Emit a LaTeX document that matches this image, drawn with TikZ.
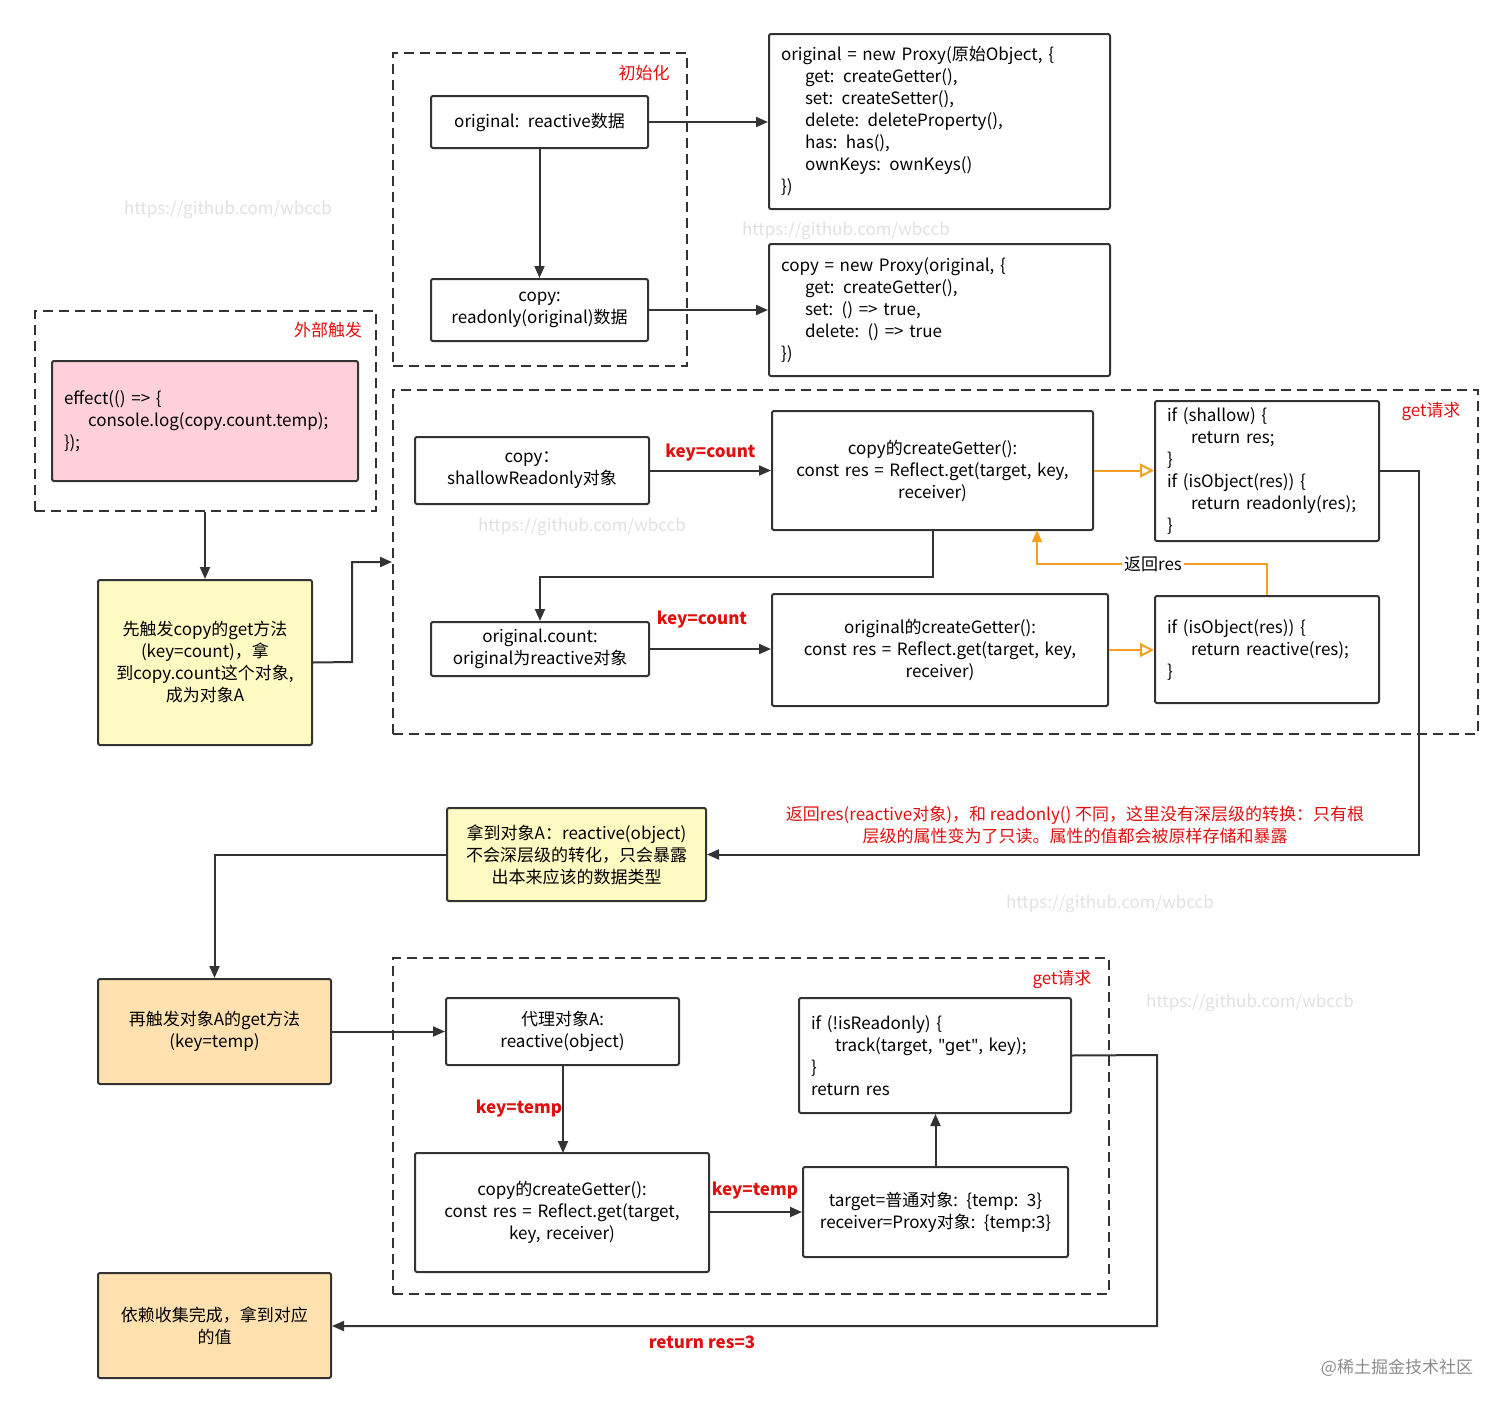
\documentclass[tikz,border=0pt]{standalone}
\usepackage{fontspec}
\setmainfont{Noto Sans CJK SC}
\newfontfamily\latin{Noto Sans}
\usetikzlibrary{arrows.meta}
\definecolor{lc}{HTML}{333333}
\definecolor{rd}{HTML}{E01010}
\definecolor{og}{HTML}{F5A020}
\definecolor{pk}{HTML}{FFD0DA}
\definecolor{yl}{HTML}{FFF9C2}
\definecolor{or}{HTML}{FFE1B0}
\newcommand\bx[7][]{%
 \pgfmathsetmacro\bw{(#5-#3)*0.5}\pgfmathsetmacro\bh{(#6-#4)*0.5}\pgfmathsetmacro\tw{(#5-#3-24)*0.5}%
 \node[box,minimum width=\bw pt,minimum height=\bh pt,text width=\tw pt,#1] (#2) at ({(#3+#5)/2},{(#4+#6)/2}) {#7};}
\newcommand\ind{\hspace*{12pt}}
\begin{document}
\begin{tikzpicture}[x=0.5pt,y=-0.5pt,
 every node/.style={font=\fontsize{8.5}{11}\selectfont,text=black},
 box/.style={draw=lc,line width=1pt,inner sep=0pt,align=center,rounded corners=1pt},
 dbox/.style={draw=lc,line width=1pt,dash pattern=on 5pt off 3pt,inner sep=0pt},
 ar/.style={draw=lc,line width=1pt,-{Triangle[length=6pt,width=5pt]}},
 oa/.style={draw=og,line width=1pt,-{Triangle[open,length=7pt,width=7pt,fill=white]}},
 rl/.style={text=rd,font=\fontsize{8.5}{11}\selectfont\bfseries},
 wm/.style={text=black!12,font=\fontsize{8.5}{10}\selectfont}]
\useasboundingbox (0,0) rectangle (1512,1414);
% watermarks
\node[wm] at (228,210) {https://github.com/wbccb};
\node[wm] at (846,231) {https://github.com/wbccb};
\node[wm] at (582,527) {https://github.com/wbccb};
\node[wm] at (1110,904) {https://github.com/wbccb};
\node[wm] at (1250,1003) {https://github.com/wbccb};
\node[text=black!45] at (1397,1368) {@稀土掘金技术社区};
% dashed groups
\bx[dbox,rounded corners=0pt]{gInit}{393}{53}{687}{366}{}
\bx[dbox,rounded corners=0pt]{gExt}{35}{311}{376}{511}{}
\bx[dbox,rounded corners=0pt]{gGet}{393}{390}{1478}{734}{}
\bx[dbox,rounded corners=0pt]{gGet2}{393}{958}{1109}{1294}{}
\node[text=rd] (lInit) at (644,73) {初始化};
\node[text=rd] (lExt) at (328,330) {外部触发};
\node[text=rd] (lGet) at (1431,411) {get请求};
\node[text=rd] (lGet2) at (1062,979) {get请求};
% boxes
\bx{orig}{431}{96}{648}{148}{original{\latin:} reactive数据}
\bx{copy}{431}{279}{648}{341}{copy{\latin:}\\readonly(original)数据}
\bx[align=left]{p1}{769}{34}{1110}{209}{original = new Proxy(原始Object, \{\\\ind get{\latin:} createGetter(),\\\ind set{\latin:} createSetter(),\\\ind delete{\latin:} deleteProperty(),\\\ind has{\latin:} has(),\\\ind ownKeys{\latin:} ownKeys()\\\})}
\bx[align=left]{p2}{769}{244}{1110}{376}{copy = new Proxy(original, \{\\\ind get{\latin:} createGetter(),\\\ind set{\latin:} () => true,\\\ind delete{\latin:} () => true\\\})}
\bx[align=left,fill=pk]{eff}{52}{361}{358}{481}{effect(() => \{\\\ind console.log(copy.count.temp);\\\});}
\bx[fill=yl]{y1}{98}{580}{312}{745}{先触发copy的get方法\\(key=count)，拿\\到copy.count这个对象,\\成为对象A}
\bx{sro}{415}{437}{649}{504}{copy：\\shallowReadonly对象}
\bx{cg1}{772}{411}{1093}{530}{copy的createGetter(){\latin:}\\const res = Reflect.get(target, key,\\receiver)}
\bx[align=left]{ifs}{1155}{401}{1379}{541}{if (shallow) \{\\\ind return res;\\\}\\if (isObject(res)) \{\\\ind return readonly(res);\\\}}
\bx{oc}{431}{622}{649}{676}{original.count{\latin:}\\original为reactive对象}
\bx{cg2}{772}{594}{1108}{706}{original的createGetter(){\latin:}\\const res = Reflect.get(target, key,\\receiver)}
\bx[align=left]{ifo}{1155}{596}{1379}{703}{if (isObject(res)) \{\\\ind return reactive(res);\\\}}
\bx[fill=yl]{y2}{447}{808}{706}{901}{拿到对象A：reactive(object)\\不会深层级的转化，只会暴露\\出本来应该的数据类型}
\node[text=rd,align=center] (rt) at (1075,825) {返回res(reactive对象)，和 readonly() 不同，这里没有深层级的转换：只有根\\层级的属性变为了只读。属性的值都会被原样存储和暴露};
\bx[fill=or]{o1}{98}{979}{331}{1084}{再触发对象A的get方法\\(key=temp)}
\bx{pa}{446}{998}{679}{1065}{代理对象A{\latin:}\\reactive(object)}
\bx{cg3}{415}{1153}{709}{1272}{copy的createGetter(){\latin:}\\const res = Reflect.get(target,\\key, receiver)}
\bx[align=left]{ifr}{799}{998}{1071}{1113}{if (!isReadonly) \{\\\ind track(target, {\latin"get"}, key);\\\}\\return res}
\bx{tg}{803}{1167}{1068}{1257}{target=普通对象{\latin:} \{temp{\latin:} 3\}\\receiver=Proxy对象{\latin:} \{temp{\latin:}3\}}
\bx[fill=or]{o2}{98}{1273}{331}{1378}{依赖收集完成，拿到对应\\的值}
% connectors
\draw[ar] (orig) -- (copy);
\draw[ar] (orig.east) -- (p1.west |- orig.east);
\draw[ar] (copy.east) -- (p2.west |- copy.east);
\draw[ar] (gExt.south -| y1.north) -- (y1.north);
\draw[ar] (y1.east) -- (352,662) |- (gGet.west);
\draw[ar] (sro.east) -- node[rl,above=1pt] (k1) {key=count} (cg1.west |- sro.east);
\draw[oa] (cg1.east) -- (ifs.west |- cg1.east);
\draw[ar] (cg1.south) |- (540,577) -- (oc.north);
\draw[ar] (oc.east) -- (cg2.west |- oc.east);
\node[rl] (k2) at (702,620) {key=count};
\draw[oa] (cg2.east) -- (ifo.west |- cg2.east);
\draw[draw=og,line width=1pt,-{Triangle[length=6pt,width=5pt]}] (ifo.north) |- (1037,564) -- (1037,530);
\node[fill=white,inner sep=1pt] (rr) at (1153,564) {返回res};
\draw[ar] (ifs.east) -- (1419,471) |- (y2.east);
\draw[ar] (y2.west) -| (o1.north);
\draw[ar] (o1.east |- pa.west) -- (pa.west);
\draw[ar] (563,1065) -- (563,1153);
\node[rl] (k3) at (519,1109) {key=temp};
\draw[ar] (cg3.east |- tg.west) -- (tg.west);
\node[rl] (k4) at (755,1191) {key=temp};
\draw[ar] (tg.north) -- (ifr.south -| tg.north);
\draw[ar] (ifr.east) -- (1157,1055) |- (o2.east |- 0,1326);
\node[rl] (k5) at (702,1342) {return res=3};
\end{tikzpicture}
\end{document}
